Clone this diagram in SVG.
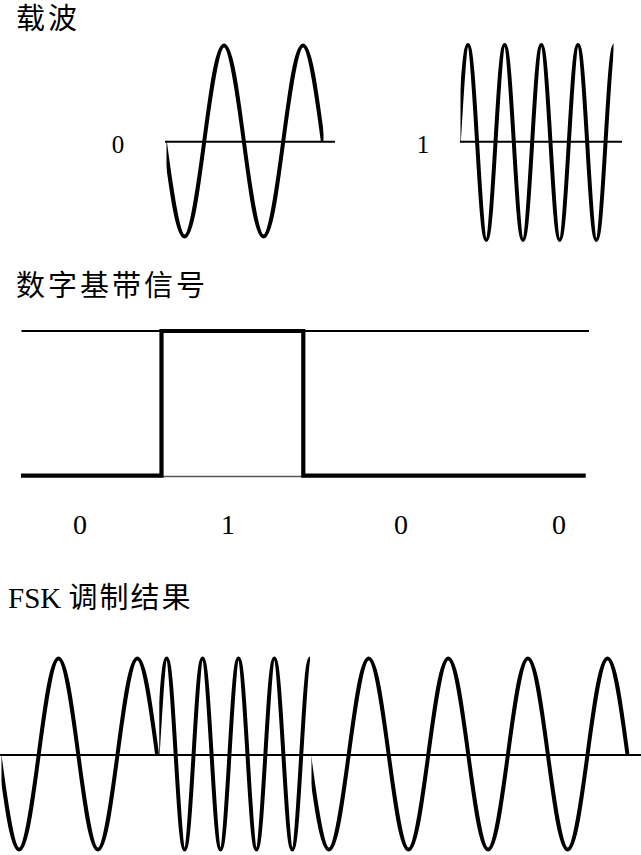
<svg xmlns="http://www.w3.org/2000/svg" width="641" height="855" viewBox="0 0 641 855">
<style>
.bg{fill:#fff}
.wave{fill:none;stroke:#000;stroke-width:4;stroke-linejoin:round}
.axis{stroke:#000;stroke-width:2}
.thin{stroke:#000;stroke-width:2}
.faint{stroke:#555;stroke-width:1.4}
.cjk{font-family:"Noto Sans CJK SC","Liberation Serif",sans-serif;font-size:29px;letter-spacing:3px;fill:#000}
.num{font-family:"Liberation Serif",serif;fill:#000;text-anchor:middle}
.lat{font-family:"Liberation Serif","Noto Sans CJK SC",serif;font-size:29px;fill:#000}
</style>
<defs>
<clipPath id="c0"><rect x="166.5" y="0" width="157" height="260"/></clipPath>
<clipPath id="c1"><rect x="460.5" y="0" width="153" height="260"/></clipPath>
<clipPath id="f1"><rect x="1.5" y="620" width="160" height="235"/></clipPath>
<clipPath id="f2"><rect x="159.3" y="620" width="150.7" height="235"/></clipPath>
<clipPath id="f3"><rect x="311.5" y="620" width="320" height="235"/></clipPath>
</defs>
<rect class="bg" x="0" y="0" width="641" height="855"/>

<g id="carrier">
<text class="cjk" x="16" y="28.5">载波</text>
<g id="carrier0">
<text class="num" x="118" y="153" font-size="25">0</text>
<line class="axis" x1="165" y1="141.7" x2="335" y2="141.7"/>
<path class="wave" clip-path="url(#c0)" d="M164.8,141
c6.45,48.97 12.68,95.5 19.75,95.5 c7.07,0 13.30,-46.53 19.75,-95.5 c6.45,-48.97 12.68,-95.5 19.75,-95.5 c7.07,0 13.30,46.53 19.75,95.5
c6.45,48.97 12.68,95.5 19.75,95.5 c7.07,0 13.30,-46.53 19.75,-95.5 c6.45,-48.97 12.68,-95.5 19.75,-95.5 c7.07,0 13.30,46.53 19.75,95.5"/>
</g>
<g id="carrier1">
<text class="num" x="423" y="153" font-size="25">1</text>
<line class="axis" x1="460" y1="141.7" x2="622" y2="141.7"/>
<path class="wave" clip-path="url(#c1)" d="M458.8,142.5
c2.99,-50 5.89,-97.5 9.17,-97.5 c3.28,0 6.18,47.5 9.17,97.5 c2.99,50 5.89,97.5 9.17,97.5 c3.28,0 6.18,-47.5 9.17,-97.5
c2.99,-50 5.89,-97.5 9.17,-97.5 c3.28,0 6.18,47.5 9.17,97.5 c2.99,50 5.89,97.5 9.17,97.5 c3.28,0 6.18,-47.5 9.17,-97.5
c2.99,-50 5.89,-97.5 9.17,-97.5 c3.28,0 6.18,47.5 9.17,97.5 c2.99,50 5.89,97.5 9.17,97.5 c3.28,0 6.18,-47.5 9.17,-97.5
c2.99,-50 5.89,-97.5 9.17,-97.5 c3.28,0 6.18,47.5 9.17,97.5 c2.99,50 5.89,97.5 9.17,97.5 c3.28,0 6.18,-47.5 9.17,-97.5
c2.99,-50 5.89,-97.5 9.17,-97.5"/>
</g>
</g>

<g id="baseband">
<text class="cjk" x="16" y="296">数字基带信号</text>
<line class="thin" x1="21.5" y1="331" x2="589" y2="331"/>
<line class="faint" x1="161.5" y1="476.5" x2="303.3" y2="476.5"/>
<path fill="none" stroke="#000" stroke-width="4.2" stroke-linejoin="miter" d="M21,475.7 H161.5 V331 H303.3 V475.7 H585.7"/>
<text class="num" x="80" y="534" font-size="28">0</text>
<text class="num" x="228" y="534" font-size="28">1</text>
<text class="num" x="401" y="534" font-size="28">0</text>
<text class="num" x="559" y="534" font-size="28">0</text>
</g>

<g id="fsk">
<text class="lat" x="8" y="608">FSK <tspan font-family="Noto Sans CJK SC, sans-serif" letter-spacing="2">调制结果</tspan></text>
<line class="axis" x1="0" y1="755" x2="641" y2="755"/>
<path class="wave" clip-path="url(#f1)" d="M-0.6,754
c6.43,48.97 12.65,95.5 19.7,95.5 c7.05,0 13.27,-46.53 19.7,-95.5 c6.43,-48.97 12.65,-95.5 19.7,-95.5 c7.05,0 13.27,46.53 19.7,95.5
c6.43,48.97 12.65,95.5 19.7,95.5 c7.05,0 13.27,-46.53 19.7,-95.5 c6.43,-48.97 12.65,-95.5 19.7,-95.5 c7.05,0 13.27,46.53 19.7,95.5"/>
<path class="wave" clip-path="url(#f2)" d="M157.7,754
c2.93,-48.97 5.76,-95.5 8.975,-95.5 c3.21,0 6.04,46.53 8.975,95.5 c2.93,48.97 5.76,95.5 8.975,95.5 c3.21,0 6.04,-46.53 8.975,-95.5
c2.93,-48.97 5.76,-95.5 8.975,-95.5 c3.21,0 6.04,46.53 8.975,95.5 c2.93,48.97 5.76,95.5 8.975,95.5 c3.21,0 6.04,-46.53 8.975,-95.5
c2.93,-48.97 5.76,-95.5 8.975,-95.5 c3.21,0 6.04,46.53 8.975,95.5 c2.93,48.97 5.76,95.5 8.975,95.5 c3.21,0 6.04,-46.53 8.975,-95.5
c2.93,-48.97 5.76,-95.5 8.975,-95.5 c3.21,0 6.04,46.53 8.975,95.5 c2.93,48.97 5.76,95.5 8.975,95.5 c3.21,0 6.04,-46.53 8.975,-95.5
c2.93,-48.97 5.76,-95.5 8.975,-95.5"/>
<path class="wave" clip-path="url(#f3)" d="M309,754
c6.50,48.97 12.78,95.5 19.9,95.5 c7.12,0 13.40,-46.53 19.9,-95.5 c6.50,-48.97 12.78,-95.5 19.9,-95.5 c7.12,0 13.40,46.53 19.9,95.5
c6.50,48.97 12.78,95.5 19.9,95.5 c7.12,0 13.40,-46.53 19.9,-95.5 c6.50,-48.97 12.78,-95.5 19.9,-95.5 c7.12,0 13.40,46.53 19.9,95.5
c6.50,48.97 12.78,95.5 19.9,95.5 c7.12,0 13.40,-46.53 19.9,-95.5 c6.50,-48.97 12.78,-95.5 19.9,-95.5 c7.12,0 13.40,46.53 19.9,95.5
c6.50,48.97 12.78,95.5 19.9,95.5 c7.12,0 13.40,-46.53 19.9,-95.5 c6.50,-48.97 12.78,-95.5 19.9,-95.5 c7.12,0 13.40,46.53 19.9,95.5"/>
</g>
</svg>
